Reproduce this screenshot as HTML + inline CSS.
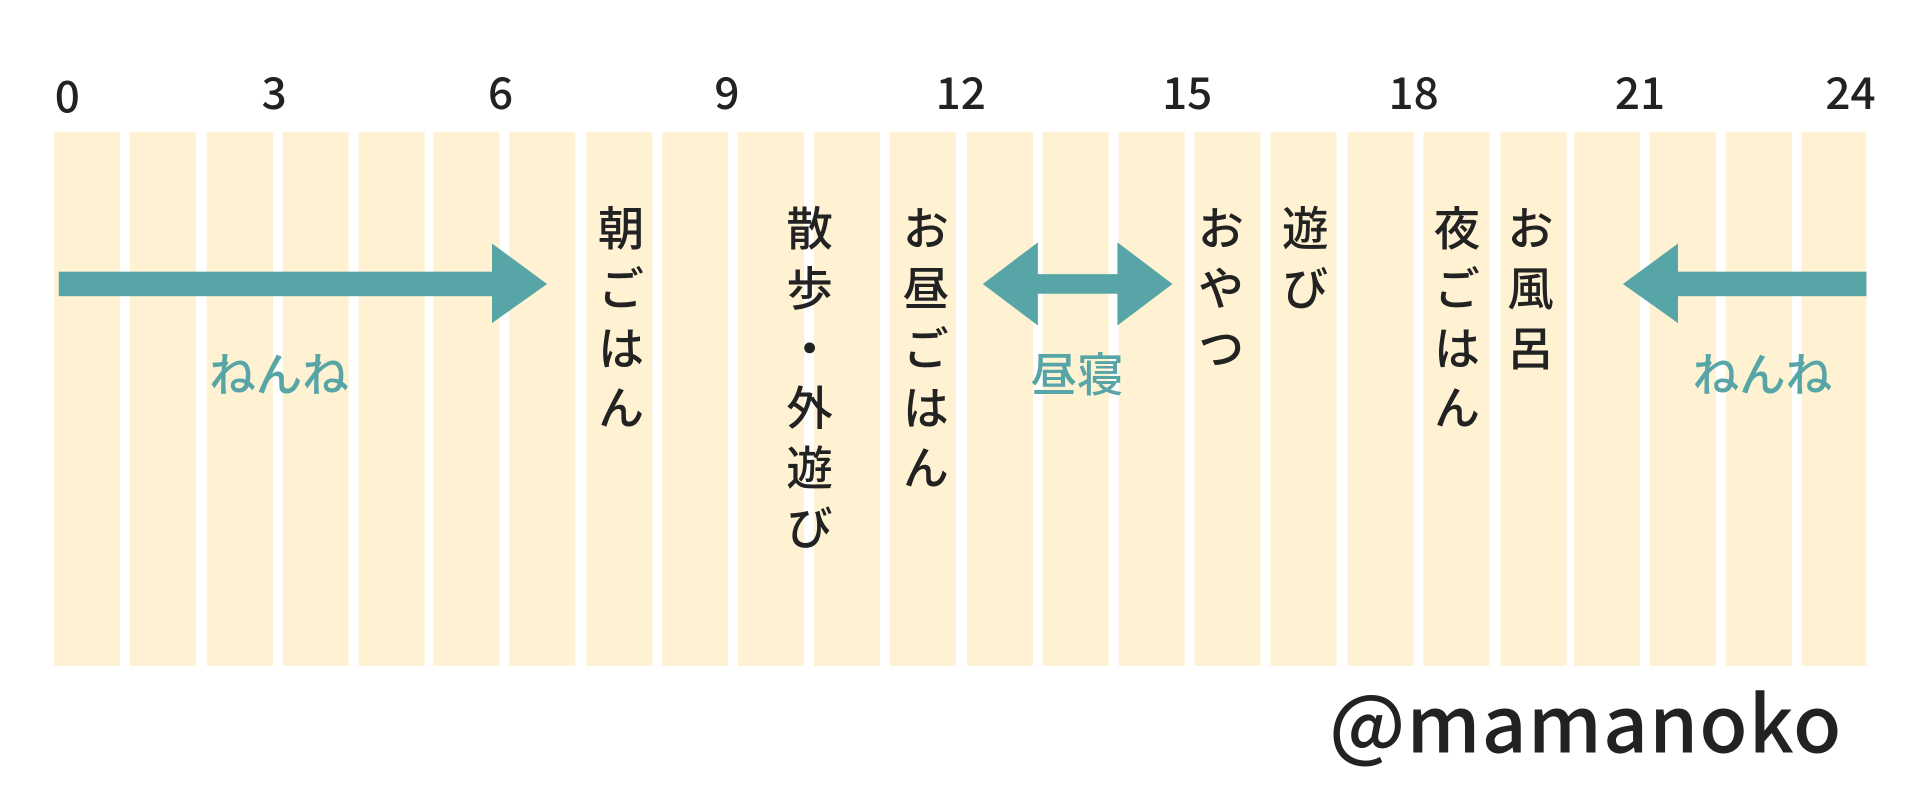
<!DOCTYPE html>
<html><head><meta charset="utf-8"><style>
html,body{margin:0;padding:0;background:#fff;width:1919px;height:804px;overflow:hidden}
#w{position:absolute;left:0;top:0;width:1568px;height:657px;transform:scale(1.2239);transform-origin:0 0;font-family:"Liberation Sans","Noto Sans CJK JP",sans-serif;color:#222}
.b{position:absolute;top:108px;height:436px;width:54px;background:#fef2d2}
.n{position:absolute;top:48px;font-size:36px;font-weight:500;transform:translateX(-50%);font-family:"Noto Sans CJK JP",sans-serif}
.v{position:absolute;top:167px;writing-mode:vertical-rl;font-size:38px;font-weight:500;letter-spacing:11px;transform:translateX(-50%);font-family:"Noto Sans CJK JP",sans-serif;line-height:1}
.t{position:absolute;top:285px;font-size:38px;font-weight:500;color:#57a5a6;transform:translateX(-50%);font-family:"Noto Sans CJK JP",sans-serif;line-height:1;white-space:nowrap}
</style></head><body><div id="w">
<div class="b" style="left:44px"></div><div class="b" style="left:106px"></div><div class="b" style="left:169px"></div><div class="b" style="left:231px"></div><div class="b" style="left:293px"></div><div class="b" style="left:354px"></div><div class="b" style="left:416px"></div><div class="b" style="left:479px"></div><div class="b" style="left:541px"></div><div class="b" style="left:603px"></div><div class="b" style="left:665px"></div><div class="b" style="left:727px"></div><div class="b" style="left:790px"></div><div class="b" style="left:852px"></div><div class="b" style="left:914px"></div><div class="b" style="left:976px"></div><div class="b" style="left:1038px"></div><div class="b" style="left:1101px"></div><div class="b" style="left:1163px"></div><div class="b" style="left:1226px"></div><div class="b" style="left:1286px"></div><div class="b" style="left:1348px"></div><div class="b" style="left:1410px"></div><div class="b" style="left:1472px;width:53px"></div>
<div class="n" style="left:55px;top:51px">0</div><div class="n" style="left:224px">3</div><div class="n" style="left:409px">6</div><div class="n" style="left:594px">9</div><div class="n" style="left:785px">12</div><div class="n" style="left:970px">15</div><div class="n" style="left:1155px">18</div><div class="n" style="left:1340px">21</div><div class="n" style="left:1512px">24</div>
<svg style="position:absolute;left:0;top:0" width="1568" height="657">
<g fill="#57a5a6">
<rect x="48" y="222" width="358" height="20"/><polygon points="402,199 447,232 402,264"/>
<rect x="845" y="224" width="72" height="16"/><polygon points="848,198 803,232 848,266"/><polygon points="913,198 958,232 913,266"/>
<rect x="1368" y="222" width="157" height="20"/><polygon points="1371,199 1326,232 1371,264"/>
</g></svg>
<div class="v" style="left:507px">朝ごはん</div>
<div class="v" style="left:661px">散歩・外遊び</div>
<div class="v" style="left:756px">お昼ごはん</div>
<div class="v" style="left:997px">おやつ</div>
<div class="v" style="left:1066px">遊び</div>
<div class="v" style="left:1190px">夜ごはん</div>
<div class="v" style="left:1250px">お風呂</div>
<div class="t" style="left:228px">ねんね</div>
<div class="t" style="left:880px">昼寝</div>
<div class="t" style="left:1440px">ねんね</div>
<div style="position:absolute;left:1086px;top:556px;font-size:64px;font-weight:500;letter-spacing:1px;font-family:'Noto Sans CJK JP',sans-serif;line-height:1;color:#222">@mamanoko</div>
</div></body></html>
